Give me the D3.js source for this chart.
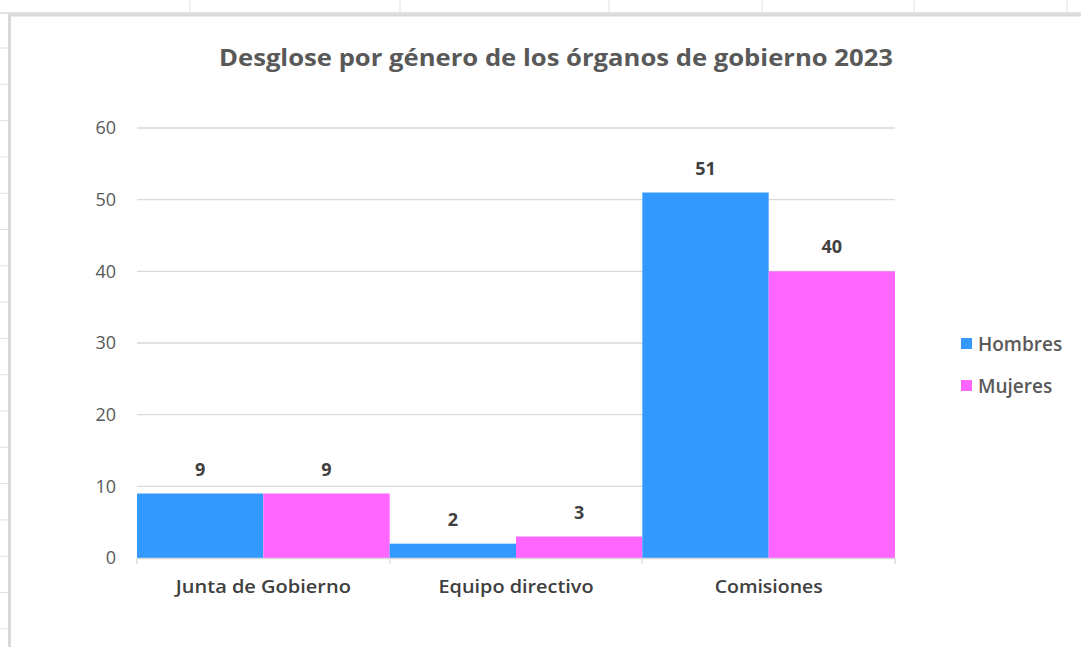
<!DOCTYPE html>
<html>
<head>
<meta charset="utf-8">
<script src="https://cdn.jsdelivr.net/npm/d3@7"></script>
<style>
  body { margin: 0; background: #fff; }
  svg text { font-family: "Open Sans", "Liberation Sans", sans-serif; }
</style>
</head>
<body>
<svg id="chart" width="1081" height="647"></svg>
<script>
// data
var categories = ["Junta de Gobierno", "Equipo directivo", "Comisiones"];
var catWidths = [175, 155, 108];
var seriesNames = ["Hombres", "Mujeres"];
var hombres = [9, 2, 51];
var mujeres = [9, 3, 40];
var yTicks = [0, 10, 20, 30, 40, 50, 60];
var colors = ["#3399FF", "#FF66FF"];

var svg = d3.select("#chart");

// spreadsheet behind the chart
var colLines = [190, 400, 609, 762, 914, 1067];
svg.selectAll("line.col").data(colLines).enter().append("line")
    .attr("x1", function(d){ return d; }).attr("x2", function(d){ return d; })
    .attr("y1", 0).attr("y2", 13)
    .attr("stroke", "#e1e1e1").attr("stroke-width", 1);
var rowLines = d3.range(48, 647, 36.3);
svg.selectAll("line.row").data(rowLines).enter().append("line")
    .attr("x1", 0).attr("x2", 8)
    .attr("y1", function(d){ return d; }).attr("y2", function(d){ return d; })
    .attr("stroke", "#e1e1e1").attr("stroke-width", 1);
svg.append("line").attr("x1", 0).attr("x2", 1081).attr("y1", 13).attr("y2", 13)
    .attr("stroke", "#e3e3e3").attr("stroke-width", 2);

// chart frame
svg.append("rect").attr("x", 9.5).attr("y", 15).attr("width", 1080).attr("height", 640)
    .attr("fill", "#fff").attr("stroke", "#d9d9d9").attr("stroke-width", 3);

var x0 = d3.scaleBand().domain(categories).range([137, 895]).padding(0);
var x1 = d3.scaleBand().domain(seriesNames).range([0, x0.bandwidth()]).padding(0);
var y = d3.scaleLinear().domain([0, 60]).range([558, 128]);

// gridlines
svg.append("g").selectAll("line").data(yTicks.filter(function(d){ return d > 0; })).enter().append("line")
    .attr("x1", 137).attr("x2", 895)
    .attr("y1", function(d){ return y(d); }).attr("y2", function(d){ return y(d); })
    .attr("stroke", "#d9d9d9").attr("stroke-width", 1.3);

// y axis labels
var yAxis = d3.axisLeft(y).tickValues(yTicks).tickSize(0).tickPadding(21);
var gy = svg.append("g").attr("transform", "translate(137,0)").call(yAxis);
gy.select(".domain").remove();
gy.selectAll("text").attr("fill", "#595959").style("font-size", "18px");

// bars
var rows = categories.map(function(c, i){ return { cat: c, vals: [hombres[i], mujeres[i]] }; });
var groups = svg.append("g").selectAll("g").data(rows).enter().append("g")
    .attr("transform", function(d){ return "translate(" + x0(d.cat) + ",0)"; });
groups.selectAll("rect").data(function(d){ return d.vals.map(function(v, j){ return { s: seriesNames[j], v: v, j: j }; }); })
    .enter().append("rect")
    .attr("x", function(d){ return x1(d.s); })
    .attr("width", x1.bandwidth())
    .attr("y", function(d){ return y(d.v); })
    .attr("height", function(d){ return y(0) - y(d.v); })
    .attr("fill", function(d){ return colors[d.j]; });
groups.selectAll("text").data(function(d){ return d.vals.map(function(v, j){ return { s: seriesNames[j], v: v }; }); })
    .enter().append("text")
    .attr("x", function(d){ return x1(d.s) + x1.bandwidth() / 2; })
    .attr("y", function(d){ return y(d.v) - 18; })
    .attr("text-anchor", "middle")
    .attr("fill", "#404040").style("font-size", "18px").style("font-weight", "bold")
    .text(function(d){ return d.v; });

// x axis
var xAxis = d3.axisBottom(x0).tickSize(0).tickPadding(22);
var gx = svg.append("g").attr("transform", "translate(0,558)").call(xAxis);
gx.select(".domain").attr("stroke", "#d9d9d9").attr("stroke-width", 1.3);
gx.selectAll("text").attr("fill", "#404040").style("font-size", "18px").style("font-weight", "600")
    .attr("textLength", function(d, i){ return catWidths[i]; })
    .attr("lengthAdjust", "spacingAndGlyphs");
svg.append("g").selectAll("line").data([137, 390, 642, 895]).enter().append("line")
    .attr("x1", function(d){ return d; }).attr("x2", function(d){ return d; })
    .attr("y1", 558).attr("y2", 564)
    .attr("stroke", "#d9d9d9").attr("stroke-width", 1.3);

// title
svg.append("text").attr("x", 556).attr("y", 66).attr("text-anchor", "middle")
    .attr("fill", "#595959").style("font-size", "24px").style("font-weight", "bold")
    .attr("textLength", 674).attr("lengthAdjust", "spacingAndGlyphs")
    .text("Desglose por género de los órganos de gobierno 2023");

// legend
var leg = svg.append("g").selectAll("g").data(seriesNames).enter().append("g")
    .attr("transform", function(d, i){ return "translate(961," + (338 + i * 42) + ")"; });
leg.append("rect").attr("width", 11).attr("height", 11).attr("fill", function(d, i){ return colors[i]; });
leg.append("text").attr("x", 17).attr("y", 6).attr("dy", "0.35em")
    .attr("fill", "#595959").style("font-size", "19px").style("font-weight", "600")
    .text(function(d){ return d; });
</script>
</body>
</html>
